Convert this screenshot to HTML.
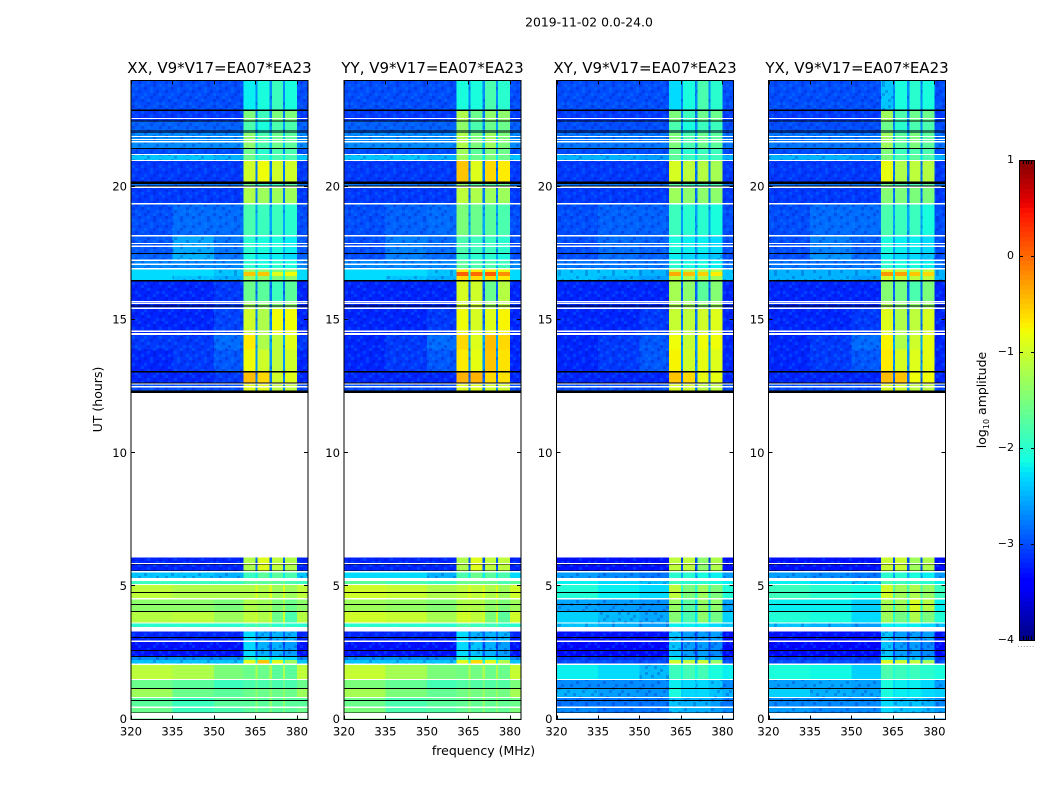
<!DOCTYPE html>
<html lang="en">
<head>
<meta charset="utf-8">
<title>2019-11-02 spectrogram</title>
<style>
html,body{margin:0;padding:0;background:#fff;width:1050px;height:800px;overflow:hidden}
svg{display:block}
text{font-family:"DejaVu Sans","Liberation Sans",sans-serif;fill:#000}
</style>
</head>
<body>
<svg id="chart" xmlns="http://www.w3.org/2000/svg" width="1050" height="800" viewBox="0 0 1050 800">
<defs>
<pattern id="speckle" x="0" y="0" width="27" height="27" patternUnits="userSpaceOnUse"></pattern>
</defs>
<rect x="0" y="0" width="1050" height="800" fill="#fff"/>
<text x="589" y="26.5" font-size="12.4" text-anchor="middle">2019-11-02 0.0-24.0</text>
<text x="483.5" y="755" font-size="12.5" text-anchor="middle">frequency (MHz)</text>
<text transform="translate(102,399.5) rotate(-90)" font-size="12.5" text-anchor="middle">UT (hours)</text>
<text transform="translate(986,400) rotate(-90)" font-size="12.5" text-anchor="middle">log<tspan font-size="8" dy="3">10</tspan><tspan dy="-3"> amplitude</tspan></text>
<text x="1026" y="647" font-size="8" text-anchor="middle" style="fill:#888;letter-spacing:0.4px">......</text>
</svg>
<script>
// Axis ticks
const freqTicks = [320, 335, 350, 365, 380];
const hourTicks = [0, 5, 10, 15, 20];
const colorbarTicks = [1, 0, -1, -2, -3, -4];
const colorbarTickLabels = ['1', '0', '\u22121', '\u22122', '\u22123', '\u22124'];
const panelTitles = ['XX, V9*V17=EA07*EA23', 'YY, V9*V17=EA07*EA23', 'XY, V9*V17=EA07*EA23', 'YX, V9*V17=EA07*EA23'];

// Frequency channel edges (MHz): three sky-band blocks, four spectral windows with gaps, upper edge block
const freqEdges = [320, 335, 350, 360.6, 365, 365.8, 370, 371, 375, 375.6, 380, 384];
// Time-band edges (hours UT), top to bottom
const bandEdges = [24, 22.9, 22.47, 22.04, 21.45, 21.22, 21, 20.17, 20, 19.38, 18.18, 17.51, 17.26, 16.94, 16.8, 16.66, 16.48, 15.7, 15.45, 14.5, 13.9, 13.06, 12.66, 12.26, 6.09, 5.59, 5.31, 5.05, 4.54, 4.06, 3.63, 3.3, 2.94, 2.37, 2.23, 2.08, 1.51, 1.17, 0.83, 0.46, 0];

// Flagged time ranges in hours [start, end]
const whiteGaps = [[22.6,22.55],[21.91,21.87],[21.8,21.76],[21.72,21.68],[21.24,21.2],[21.02,20.97],[20.02,19.97],[19.4,19.35],[18.2,18.15],[17.89,17.85],[17.8,17.74],[17.28,17.22],[17.12,17.08],[16.96,16.9],[15.72,15.67],[15.65,15.6],[15.47,15.41],[14.61,14.55],[14.51,14.44],[12.62,12.58],[12.53,12.47],[5.88,5.84],[5.57,5.52],[5.31,5.2],[5.09,5.05],[4.56,4.51],[3.65,3.6],[3.47,3.3],[2.96,2.91],[2.1,2.05],[1.53,1.48],[0.85,0.8],[0.48,0.43],[0.25,0.03]];
const blackLines = [[22.92,22.86],[22.49,22.46],[22.12,22.09],[22.05,22.02],[21.46,21.43],[20.2,20.12],[20.05,20.02],[17.52,17.49],[16.5,16.46],[15.55,15.51],[13.08,13.04],[12.66,12.62],[12.35,12.26],[5.84,5.82],[5.6,5.57],[4.79,4.76],[4.34,4.31],[4.07,4.04],[3.1,3.07],[2.61,2.58],[2.38,2.35],[1.18,1.15],[0.73,0.7],[0.27,0.25]];

// log10 amplitude per band: [320-335, 335-350, 350-360, window1, window2, window3, window4]; null = no data
const seriesXX = [
[-3.0,-3.0,-3.0,-2.2,-2.1,-1.9,-2.1],
[-3.1,-3.1,-3.1,-1.5,-1.9,-1.5,-1.5],
[-2.9,-2.9,-2.9,-1.8,-2.1,-1.8,-1.8],
[-2.7,-2.7,-2.7,-1.4,-1.8,-1.6,-1.7],
[-3.0,-3.0,-3.0,-1.6,-2.0,-1.8,-1.8],
[-2.4,-2.4,-2.5,-1.6,-1.9,-1.8,-1.8],
[-3.1,-3.1,-3.1,-1.0,-0.8,-1.0,-1.0],
[-2.8,-2.8,-2.8,-1.6,-1.9,-1.9,-1.7],
[-3.1,-3.1,-3.1,-1.2,-1.3,-1.3,-1.3],
[-3.0,-2.85,-2.85,-1.8,-1.9,-1.9,-2.0],
[-2.95,-2.55,-2.8,-2.0,-2.1,-2.1,-2.2],
[-2.9,-2.5,-2.8,-2.1,-2.2,-2.2,-2.3],
[-2.7,-2.7,-2.7,-2.0,-2.1,-2.0,-2.1],
[-2.3,-2.3,-2.4,-1.3,-1.4,-1.5,-1.4],
[-2.3,-2.3,-2.4,-0.5,-0.5,-0.9,-0.8],
[-2.3,-2.4,-2.5,-1.3,-1.4,-1.5,-1.4],
[-3.2,-3.2,-3.1,-1.6,-1.7,-1.9,-1.7],
[-3.2,-3.2,-3.1,-1.3,-1.4,-1.5,-1.4],
[-3.2,-3.2,-3.05,-1.0,-1.2,-0.8,-0.8],
[-3.1,-3.1,-2.85,-0.7,-1.2,-1.1,-0.9],
[-3.2,-3.1,-2.95,-0.8,-1.0,-1.1,-1.0],
[-3.2,-3.2,-3.1,-0.45,-0.6,-1.0,-0.9],
[-3.0,-3.0,-3.0,-0.9,-0.9,-1.1,-1.1],
null,
[-3.2,-3.2,-3.2,-1.2,-0.9,-1.1,-1.2],
[-2.4,-2.4,-2.5,-1.9,-1.7,-1.7,-1.8],
[-1.9,-1.9,-1.9,-1.7,-1.7,-1.7,-1.8],
[-1.1,-1.2,-1.2,-1.2,-1.2,-1.3,-1.3],
[-1.4,-1.4,-1.5,-1.2,-1.3,-1.5,-1.6],
[-1.15,-1.1,-1.3,-1.1,-1.2,-1.6,-1.8],
[-2.0,-2.0,-2.0,-1.9,-1.9,-2.0,-2.0],
[-3.2,-3.2,-3.2,-2.3,-2.5,-2.5,-2.5],
[-3.3,-3.3,-3.3,-2.3,-2.5,-2.5,-2.6],
[-2.7,-2.7,-2.7,-2.0,-2.1,-2.2,-2.3],
[-2.4,-2.4,-2.4,-0.9,-0.5,-0.9,-1.3],
[-1.1,-1.2,-1.5,-1.6,-1.6,-1.7,-1.7],
[-1.6,-1.7,-1.9,-1.8,-1.8,-1.8,-1.8],
[-1.3,-1.6,-1.7,-1.6,-1.6,-1.6,-1.6],
[-1.7,-1.9,-1.7,-1.7,-1.7,-1.7,-1.7],
[-1.6,-1.9,-1.8,-1.7,-1.7,-1.7,-1.7]
];
const seriesYY = [
[-3.0,-3.0,-3.0,-2.1,-2.1,-1.8,-2.0],
[-3.1,-3.1,-3.1,-1.2,-1.6,-1.4,-1.4],
[-2.9,-2.9,-2.9,-1.4,-1.8,-1.6,-1.6],
[-2.7,-2.7,-2.7,-1.2,-1.5,-1.3,-1.5],
[-3.0,-3.0,-3.0,-1.3,-1.7,-1.5,-1.6],
[-2.4,-2.4,-2.5,-1.3,-1.6,-1.5,-1.6],
[-3.1,-3.1,-3.1,-0.5,-0.9,-0.6,-0.7],
[-2.8,-2.8,-2.8,-1.4,-1.7,-1.7,-1.6],
[-3.1,-3.1,-3.1,-1.1,-1.2,-1.3,-1.3],
[-3.0,-2.9,-2.85,-1.5,-1.6,-1.7,-1.8],
[-3.0,-2.75,-2.85,-1.8,-1.9,-1.9,-2.0],
[-3.0,-2.75,-2.85,-1.9,-2.0,-2.0,-2.1],
[-2.7,-2.7,-2.7,-1.7,-1.8,-1.8,-1.9],
[-2.3,-2.3,-2.4,-0.7,-0.7,-0.7,-0.8],
[-2.3,-2.3,-2.4,0.05,0.0,0.05,-0.2],
[-2.3,-2.4,-2.5,-0.6,-0.6,-0.6,-0.7],
[-3.2,-3.2,-3.2,-0.95,-1.0,-1.6,-1.15],
[-3.2,-3.2,-3.2,-1.0,-1.0,-1.3,-1.1],
[-3.2,-3.2,-3.1,-0.8,-0.95,-0.9,-0.75],
[-3.2,-3.1,-2.85,-0.6,-0.9,-0.45,-0.6],
[-3.2,-3.1,-2.95,-0.7,-0.85,-0.5,-0.65],
[-3.2,-3.2,-3.2,-0.4,-0.4,-0.6,-0.65],
[-3.0,-3.0,-3.0,-0.9,-0.9,-1.0,-1.0],
null,
[-3.2,-3.2,-3.2,-1.2,-0.9,-1.1,-1.1],
[-2.3,-2.3,-2.5,-1.8,-1.6,-1.7,-1.8],
[-1.7,-1.8,-1.9,-1.6,-1.6,-1.6,-1.8],
[-1.0,-1.05,-1.2,-1.1,-1.1,-1.2,-1.3],
[-1.3,-1.35,-1.45,-1.2,-1.2,-1.4,-1.5],
[-1.0,-1.05,-1.25,-1.0,-1.1,-1.5,-1.7],
[-2.0,-2.0,-2.0,-1.8,-1.9,-1.9,-2.0],
[-3.2,-3.2,-3.2,-2.3,-2.5,-2.5,-2.5],
[-3.3,-3.3,-3.3,-2.3,-2.4,-2.5,-2.6],
[-2.7,-2.7,-2.7,-2.0,-2.1,-2.2,-2.3],
[-2.4,-2.4,-2.4,-0.9,-0.6,-0.9,-1.2],
[-1.05,-1.25,-1.5,-1.55,-1.55,-1.6,-1.6],
[-1.5,-1.65,-1.85,-1.75,-1.75,-1.75,-1.75],
[-1.25,-1.5,-1.65,-1.55,-1.55,-1.55,-1.55],
[-1.6,-1.8,-1.7,-1.65,-1.65,-1.65,-1.65],
[-1.5,-1.8,-1.75,-1.65,-1.65,-1.65,-1.65]
];
const seriesXY = [
[-3.0,-3.0,-3.0,-2.3,-2.1,-1.8,-2.0],
[-3.1,-3.1,-3.1,-1.5,-1.9,-1.6,-1.6],
[-3.0,-3.0,-3.0,-1.8,-2.1,-1.9,-1.9],
[-2.8,-2.8,-2.8,-1.5,-1.8,-1.6,-1.7],
[-3.0,-3.0,-3.0,-1.7,-2.0,-1.9,-1.9],
[-2.5,-2.5,-2.6,-1.7,-1.9,-1.8,-1.9],
[-3.1,-3.1,-3.1,-0.95,-1.1,-1.15,-1.25],
[-2.8,-2.8,-2.8,-1.7,-1.9,-1.9,-1.8],
[-3.1,-3.1,-3.1,-1.3,-1.4,-1.4,-1.4],
[-3.0,-2.9,-2.9,-1.9,-2.0,-2.0,-2.1],
[-3.0,-2.85,-2.9,-2.1,-2.2,-2.2,-2.3],
[-3.0,-2.85,-2.9,-2.2,-2.3,-2.3,-2.4],
[-2.8,-2.8,-2.8,-2.0,-2.1,-2.1,-2.2],
[-2.4,-2.4,-2.5,-1.1,-1.2,-1.2,-1.2],
[-2.4,-2.4,-2.5,-0.35,-0.45,-0.55,-0.7],
[-2.4,-2.5,-2.6,-1.1,-1.2,-1.2,-1.3],
[-3.2,-3.2,-3.2,-1.25,-1.4,-1.7,-1.45],
[-3.2,-3.2,-3.2,-1.2,-1.3,-1.4,-1.3],
[-3.2,-3.2,-3.1,-1.05,-1.1,-1.0,-0.9],
[-3.2,-3.1,-2.95,-0.8,-1.05,-0.8,-0.8],
[-3.2,-3.1,-2.95,-0.75,-1.0,-0.85,-0.9],
[-3.2,-3.2,-3.2,-0.5,-0.6,-0.85,-0.85],
[-3.0,-3.0,-3.0,-0.95,-1.0,-1.1,-1.1],
null,
[-3.3,-3.3,-3.3,-1.1,-1.1,-1.4,-1.2],
[-2.6,-2.7,-2.8,-2.0,-2.0,-2.1,-2.2],
[-2.2,-2.3,-2.4,-1.9,-2.0,-2.0,-2.1],
[-2.05,-2.2,-2.3,-1.1,-1.5,-1.3,-1.5],
[-2.55,-2.6,-2.65,-1.35,-1.7,-1.35,-1.4],
[-2.35,-2.45,-2.55,-1.45,-1.8,-1.4,-1.55],
[-2.4,-2.5,-2.6,-2.2,-2.2,-2.2,-2.3],
[-3.3,-3.3,-3.3,-2.4,-2.6,-2.6,-2.6],
[-3.35,-3.35,-3.35,-2.4,-2.6,-2.6,-2.7],
[-3.1,-3.1,-3.1,-2.2,-2.4,-2.4,-2.5],
[-3.0,-3.0,-3.0,-1.0,-1.1,-1.05,-1.35],
[-2.2,-2.3,-2.45,-1.9,-1.85,-1.85,-2.1],
[-2.7,-2.7,-2.7,-2.2,-2.3,-2.3,-2.4],
[-2.5,-2.6,-2.65,-2.1,-2.3,-2.3,-2.4],
[-2.8,-2.8,-2.8,-2.4,-2.5,-2.5,-2.6],
[-2.7,-2.8,-2.8,-2.4,-2.5,-2.5,-2.6]
];
const seriesYX = [
[-3.0,-3.0,-3.0,-2.4,-2.1,-2.0,-2.1],
[-3.1,-3.1,-3.1,-1.3,-1.8,-1.6,-1.6],
[-3.0,-3.0,-3.0,-1.6,-2.0,-1.8,-1.8],
[-2.8,-2.8,-2.8,-1.3,-1.7,-1.5,-1.7],
[-3.0,-3.0,-3.0,-1.5,-1.9,-1.8,-1.8],
[-2.5,-2.5,-2.6,-1.5,-1.8,-1.7,-1.8],
[-3.1,-3.1,-3.1,-0.85,-1.2,-1.1,-1.15],
[-2.8,-2.8,-2.8,-1.6,-1.8,-1.8,-1.7],
[-3.1,-3.1,-3.1,-1.45,-1.5,-1.5,-1.5],
[-3.0,-2.85,-2.85,-1.8,-1.9,-1.9,-2.1],
[-3.0,-2.75,-2.9,-2.1,-2.2,-2.2,-2.3],
[-3.0,-2.65,-2.85,-2.2,-2.3,-2.3,-2.4],
[-2.8,-2.8,-2.8,-2.0,-2.1,-2.1,-2.2],
[-2.5,-2.5,-2.5,-0.95,-1.1,-1.1,-1.1],
[-2.5,-2.5,-2.5,-0.25,-0.3,-0.5,-0.6],
[-2.5,-2.5,-2.6,-1.0,-1.05,-1.1,-1.1],
[-3.2,-3.2,-3.2,-1.45,-1.55,-1.8,-1.5],
[-3.2,-3.2,-3.2,-1.25,-1.4,-1.4,-1.35],
[-3.2,-3.2,-3.1,-0.9,-1.2,-1.1,-0.95],
[-3.2,-3.1,-2.85,-0.75,-1.2,-1.0,-0.85],
[-3.2,-3.1,-2.95,-0.7,-0.95,-0.9,-0.85],
[-3.2,-3.2,-3.2,-0.45,-0.5,-0.8,-0.8],
[-3.0,-3.0,-3.0,-0.95,-1.0,-1.1,-1.1],
null,
[-3.3,-3.3,-3.3,-1.05,-1.05,-1.3,-1.2],
[-2.6,-2.7,-2.8,-2.0,-2.0,-2.1,-2.2],
[-2.2,-2.3,-2.4,-1.8,-1.9,-1.9,-2.0],
[-1.9,-2.0,-2.1,-1.0,-1.3,-1.2,-1.35],
[-2.2,-2.2,-2.35,-1.25,-1.3,-0.95,-1.15],
[-2.05,-2.1,-2.3,-1.3,-1.55,-1.2,-1.5],
[-2.4,-2.5,-2.6,-2.2,-2.2,-2.2,-2.3],
[-3.3,-3.3,-3.3,-2.4,-2.6,-2.6,-2.6],
[-3.35,-3.35,-3.35,-2.4,-2.6,-2.6,-2.7],
[-3.1,-3.1,-3.1,-2.2,-2.4,-2.4,-2.5],
[-3.0,-3.0,-3.0,-0.95,-1.05,-1.1,-1.3],
[-2.1,-2.15,-2.35,-1.8,-1.9,-1.9,-2.0],
[-2.6,-2.55,-2.6,-2.1,-2.2,-2.2,-2.3],
[-2.35,-2.5,-2.55,-2.1,-2.2,-2.2,-2.3],
[-2.7,-2.7,-2.7,-2.3,-2.4,-2.4,-2.5],
[-2.6,-2.7,-2.7,-2.3,-2.4,-2.4,-2.5]
];
const panelSeries = [seriesXX, seriesYY, seriesXY, seriesYX];

const svg = document.getElementById('chart');
const NS = 'http://www.w3.org/2000/svg';
const panelLefts = [131, 344, 556.5, 768.5];
const panelWidth = 177;
const plotTop = 80.5, plotBottom = 719.5;
const freqMin = 320, freqMax = 384, hourMin = 0, hourMax = 24;
const cbarLeft = 1019, cbarRight = 1034, cbarTop = 160, cbarBottom = 640;
const cbarMin = -4, cbarMax = 1;
const speckleThreshold = -2.35;

// Decorative receiver-noise tile (d = darker, l = lighter); applies only to the faint background cells
const speckleRows = ['.d..l.d..', '..l...d.l', 'l..d.l...', '.d...l.d.', '...l..d.l', 'd.l..d...', '..d.l...d', 'l...d..l.', '.l.d..l.d'];
const speckle = document.getElementById('speckle');
speckleRows.forEach(function (row, ry) {
  row.split('').forEach(function (ch, rx) {
    if (ch === '.') return;
    const s = document.createElementNS(NS, 'rect');
    s.setAttribute('x', rx * 3);
    s.setAttribute('y', ry * 3);
    s.setAttribute('width', 3);
    s.setAttribute('height', 3);
    s.setAttribute('fill', ch === 'd' ? '#0000a0' : '#00a0ff');
    s.setAttribute('fill-opacity', '0.22');
    speckle.appendChild(s);
  });
});

function xScale(panelIndex, f) {
  return panelLefts[panelIndex] + (f - freqMin) / (freqMax - freqMin) * panelWidth;
}
function yScale(h) {
  return plotBottom - (h - hourMin) / (hourMax - hourMin) * (plotBottom - plotTop);
}
function cbarScale(v) {
  return cbarBottom - (v - cbarMin) / (cbarMax - cbarMin) * (cbarBottom - cbarTop);
}
function interp(stops, t) {
  for (let i = 1; i < stops.length; i++) {
    if (t <= stops[i][0]) {
      const a = stops[i - 1], b = stops[i];
      return a[1] + (b[1] - a[1]) * (t - a[0]) / (b[0] - a[0]);
    }
  }
  return stops[stops.length - 1][1];
}
const jetR = [[0,0],[0.35,0],[0.66,1],[0.89,1],[1,0.5]];
const jetG = [[0,0],[0.125,0],[0.375,1],[0.64,1],[0.91,0],[1,0]];
const jetB = [[0,0.5],[0.11,1],[0.34,1],[0.65,0],[1,0]];
function jet(v) {
  const t = Math.max(0, Math.min(1, (v - cbarMin) / (cbarMax - cbarMin)));
  return 'rgb(' + Math.round(interp(jetR, t) * 255) + ',' + Math.round(interp(jetG, t) * 255) + ',' + Math.round(interp(jetB, t) * 255) + ')';
}
function makeRect(x, y, w, h, fill) {
  const r = document.createElementNS(NS, 'rect');
  r.setAttribute('x', x.toFixed(2));
  r.setAttribute('y', y.toFixed(2));
  r.setAttribute('width', w.toFixed(2));
  r.setAttribute('height', h.toFixed(2));
  r.setAttribute('fill', fill);
  return r;
}
function makeLine(x1, y1, x2, y2) {
  const l = document.createElementNS(NS, 'line');
  l.setAttribute('x1', x1);
  l.setAttribute('y1', y1);
  l.setAttribute('x2', x2);
  l.setAttribute('y2', y2);
  l.setAttribute('stroke', '#000');
  l.setAttribute('stroke-width', '1');
  return l;
}
function makeText(x, y, str, size, anchor) {
  const t = document.createElementNS(NS, 'text');
  t.setAttribute('x', x);
  t.setAttribute('y', y);
  t.setAttribute('font-size', size);
  t.setAttribute('text-anchor', anchor);
  t.textContent = str;
  return t;
}

// Maps each frequency column to a value index; -1 marks a gap between windows
const columnValueIndex = [0, 1, 2, 3, -1, 4, -1, 5, -1, 6, 0];

panelSeries.forEach(function (series, p) {
  const g = document.createElementNS(NS, 'g');
  
  
  g.setAttribute('shape-rendering', 'crispEdges');
  svg.appendChild(g);

  const x0 = xScale(p, freqMin), x1 = xScale(p, freqMax);

  series.forEach(function (row, b) {
    if (!row) return;
    const yA = yScale(bandEdges[b]), yB = yScale(bandEdges[b + 1]);
    for (let c = 0; c < freqEdges.length - 1; c++) {
      const idx = columnValueIndex[c];
      const val = idx < 0 ? row[2] + 0.3 : row[idx];
      const xA = xScale(p, freqEdges[c]), xB = xScale(p, freqEdges[c + 1]);
      const cell = makeRect(xA, yA, xB - xA, yB - yA, jet(val));
      
      
      g.appendChild(cell);
      if (val < speckleThreshold) {
        const sp = makeRect(xA, yA, xB - xA, yB - yA, 'url(#speckle)');
        
        
        g.appendChild(sp);
      }
    }
  });

  whiteGaps.forEach(function (gap) {
    const yA = yScale(gap[0]), yB = yScale(gap[1]);
    const r = makeRect(x0, yA, x1 - x0, yB - yA, '#fff');
    
    
    g.appendChild(r);
  });
  blackLines.forEach(function (gap) {
    const yA = yScale(gap[0]), yB = yScale(gap[1]);
    const r = makeRect(x0, yA, x1 - x0, yB - yA, '#000');
    
    
    g.appendChild(r);
  });

  // Frame
  const frame = makeRect(x0, plotTop, x1 - x0, plotBottom - plotTop, 'none');
  frame.setAttribute('stroke', '#000');
  frame.setAttribute('stroke-width', '1');
  
  
  g.appendChild(frame);

  // X ticks
  freqTicks.forEach(function (f) {
    const x = Math.round(xScale(p, f)) + 0.5;
    const tb = makeLine(x, plotBottom, x, plotBottom - 4);
    
    
    g.appendChild(tb);
    const tt = makeLine(x, plotTop, x, plotTop + 4);
    
    
    g.appendChild(tt);
    const lab = makeText(xScale(p, f), plotBottom + 16, String(f), 11.6, 'middle');
    
    
    svg.appendChild(lab);
  });

  // Y ticks
  hourTicks.forEach(function (h) {
    const y = Math.round(yScale(h)) - 0.5;
    const tl = makeLine(x0, y, x0 + 4, y);
    
    
    g.appendChild(tl);
    const tr = makeLine(x1, y, x1 - 4, y);
    
    
    g.appendChild(tr);
    const lab = makeText(x0 - 4, yScale(h) + 3.5, String(h), 11.6, 'end');
    
    
    svg.appendChild(lab);
  });

  const title = makeText((x0 + x1) / 2, 73, panelTitles[p], 15, 'middle');
  
  
  svg.appendChild(title);
});

// Colorbar
const cbar = document.createElementNS(NS, 'g');


cbar.setAttribute('shape-rendering', 'crispEdges');
svg.appendChild(cbar);
const cbarSteps = 100;
for (let i = 0; i < cbarSteps; i++) {
  const vA = cbarMin + (cbarMax - cbarMin) * i / cbarSteps;
  const vB = cbarMin + (cbarMax - cbarMin) * (i + 1) / cbarSteps;
  const yA = cbarScale(vB), yB = cbarScale(vA);
  const seg = makeRect(cbarLeft, yA, cbarRight - cbarLeft, yB - yA, jet((vA + vB) / 2));
  
  
  cbar.appendChild(seg);
}
const cbarFrame = makeRect(cbarLeft + 0.5, cbarTop + 0.5, cbarRight - cbarLeft, cbarBottom - cbarTop, 'none');
cbarFrame.setAttribute('stroke', '#000');
cbarFrame.setAttribute('stroke-width', '1');


cbar.appendChild(cbarFrame);
[4, 7, 9, 12].forEach(function (dx) {
  const top = makeLine(cbarLeft + dx + 0.5, cbarTop, cbarLeft + dx + 0.5, cbarTop + 4);
  
  
  cbar.appendChild(top);
  const bottom = makeLine(cbarLeft + dx + 0.5, cbarBottom, cbarLeft + dx + 0.5, cbarBottom - 4);
  
  
  cbar.appendChild(bottom);
});
colorbarTicks.forEach(function (v, i) {
  const y = Math.round(cbarScale(v)) + 0.5;
  const a = makeLine(cbarLeft, y, cbarLeft + 4, y);
  
  
  cbar.appendChild(a);
  const b = makeLine(cbarRight + 1, y, cbarRight - 3, y);
  
  
  cbar.appendChild(b);
  const lab = makeText(1014, cbarScale(v) + 3, colorbarTickLabels[i], 11, 'end');
  
  
  svg.appendChild(lab);
});
</script>
</body>
</html>
